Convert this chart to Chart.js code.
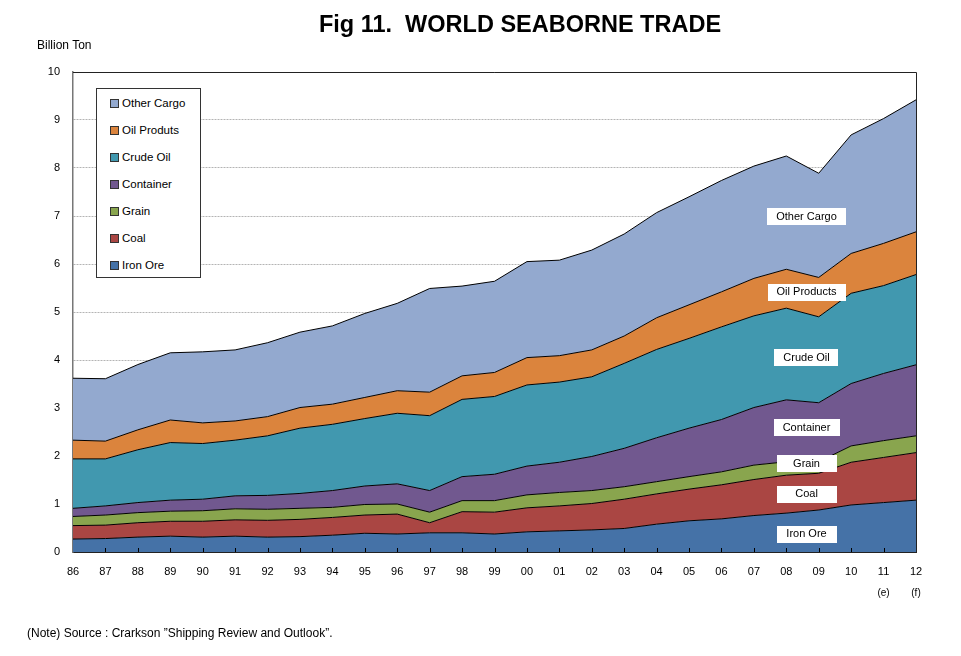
<!DOCTYPE html>
<html><head><meta charset="utf-8">
<script src="https://cdn.jsdelivr.net/npm/chart.js@4"></script>
<style>
html,body{margin:0;padding:0;background:#fff;}
#wrap{position:relative;width:961px;height:656px;font-family:"Liberation Sans",Arial,sans-serif;}
canvas{position:absolute;left:0;top:0;}
.t{position:absolute;white-space:pre;color:#000;}
.lg{position:absolute;left:96px;top:88px;width:103px;height:188px;border:1px solid #333;background:#fff;}
.li{position:absolute;left:13px;font-size:11.5px;line-height:14px;white-space:nowrap;}
.li span{display:inline-block;width:7px;height:7px;border:1px solid #333;margin-right:3px;vertical-align:-1px;}
</style></head><body>
<div id="wrap">
<canvas id="c" width="961" height="656"></canvas>
<div class="t" style="left:0;width:1040px;text-align:center;top:11px;font-size:23.5px;font-weight:bold;">Fig 11.  WORLD SEABORNE TRADE</div>
<div class="t" style="left:37px;top:38px;font-size:12px;">Billion Ton</div>
<div class="t" style="left:27px;top:626px;font-size:12px;">(Note) Source : Crarkson ”Shipping Review and Outlook”.</div>
<div class="lg" id="lg"></div>
</div>
<script>
const years = ['86','87','88','89','90','91','92','93','94','95','96','97','98','99','00','01','02','03','04','05','06','07','08','09','10','11','12'];
const yearNotes = ['','','','','','','','','','','','','','','','','','','','','','','','','','(e)','(f)'];
const seriesNames = ['Iron Ore','Coal','Grain','Container','Crude Oil','Oil Produts','Other Cargo'];
const ironOre   = [0.27,0.28,0.31,0.33,0.31,0.33,0.31,0.32,0.35,0.39,0.375,0.40,0.40,0.375,0.42,0.44,0.46,0.49,0.58,0.65,0.69,0.76,0.81,0.875,0.98,1.03,1.08];
const coal      = [0.28,0.28,0.30,0.31,0.33,0.34,0.35,0.36,0.37,0.38,0.415,0.21,0.44,0.455,0.50,0.52,0.55,0.61,0.63,0.66,0.71,0.75,0.79,0.765,0.89,0.94,0.99];
const grain     = [0.19,0.21,0.21,0.21,0.22,0.23,0.23,0.23,0.21,0.22,0.21,0.22,0.23,0.24,0.27,0.28,0.27,0.26,0.255,0.26,0.27,0.30,0.28,0.24,0.34,0.35,0.35];
const container = [0.17,0.19,0.21,0.23,0.24,0.27,0.29,0.31,0.35,0.385,0.42,0.45,0.50,0.55,0.60,0.63,0.71,0.80,0.915,1.01,1.09,1.20,1.29,1.23,1.30,1.40,1.48];
const crudeOil  = [1.03,0.98,1.10,1.20,1.16,1.16,1.24,1.36,1.38,1.405,1.47,1.56,1.61,1.62,1.69,1.67,1.66,1.77,1.84,1.87,1.93,1.91,1.91,1.79,1.88,1.83,1.88];
const oilProd   = [0.39,0.37,0.415,0.47,0.43,0.40,0.40,0.43,0.42,0.44,0.47,0.49,0.49,0.50,0.57,0.55,0.56,0.57,0.66,0.70,0.73,0.78,0.81,0.82,0.83,0.88,0.89];
const otherCargo= [1.29,1.30,1.36,1.40,1.48,1.48,1.54,1.57,1.63,1.75,1.82,2.16,1.87,1.90,2.00,1.99,2.08,2.125,2.19,2.25,2.32,2.34,2.36,2.17,2.47,2.60,2.75];
const yTicks = [0,1,2,3,4,5,6,7,8,9,10];
const inLabels = ['Iron Ore','Coal','Grain','Container','Crude Oil','Oil Products','Other Cargo'];
const inLabelY = [0.38,1.21,1.85,2.6,4.06,5.42,7.0];
const colors = ['#4572A7','#AA4643','#89A54E','#71588F','#4198AF','#DB843D','#93A9CF'];

const allSeries = [ironOre,coal,grain,container,crudeOil,oilProd,otherCargo];
const datasets = allSeries.map((d,i)=>({
  label: seriesNames[i], data: d, backgroundColor: colors[i], borderColor:'#000', borderWidth:1,
  fill: i===0 ? 'origin' : '-1', pointRadius:0, tension:0
}));

const lg = document.getElementById('lg');
for (let k=0;k<7;k++){
  const i = 6-k;
  const d = document.createElement('div');
  d.className='li'; d.style.top = (7+k*27)+'px';
  d.innerHTML = '<span style="background:'+colors[i]+'"></span>'+seriesNames[i];
  lg.appendChild(d);
}

const deco = {
  id:'deco',
  afterDatasetsDraw(chart){
    const ctx = chart.ctx, a = chart.chartArea, xs = chart.scales.x, ys = chart.scales.y;
    ctx.save();
    ctx.strokeStyle='#000'; ctx.lineWidth=1;
    for (let i=1;i<years.length-1;i++){
      const x = Math.round(xs.getPixelForValue(i))+0.5;
      ctx.beginPath(); ctx.moveTo(x,a.bottom); ctx.lineTo(x,a.bottom-4); ctx.stroke();
    }
    ctx.strokeStyle='#222';
    ctx.beginPath();
    ctx.moveTo(Math.round(a.left), Math.round(a.top)+0.5);
    ctx.lineTo(Math.round(a.right)+0.5, Math.round(a.top)+0.5);
    ctx.lineTo(Math.round(a.right)+0.5, Math.round(a.bottom));
    ctx.stroke();
    const cx = (xs.getPixelForValue(22)+xs.getPixelForValue(23))/2 + 4;
    ctx.font = '11px "Liberation Sans", Arial, sans-serif';
    ctx.textAlign='center'; ctx.textBaseline='middle';
    for (let i=0;i<inLabels.length;i++){
      const y = ys.getPixelForValue(inLabelY[i]);
      const w = Math.max(60, ctx.measureText(inLabels[i]).width + 18);
      ctx.fillStyle='#fff'; ctx.fillRect(Math.round(cx-w/2), Math.round(y-8), Math.round(w), 17);
      ctx.fillStyle='#000'; ctx.fillText(inLabels[i], cx, y+0.5);
    }
    ctx.font = '10px "Liberation Sans", Arial, sans-serif';
    for (let i=0;i<years.length;i++){
      if (yearNotes[i]) ctx.fillText(yearNotes[i], xs.getPixelForValue(i), a.bottom+41);
    }
    ctx.restore();
  }
};

new Chart(document.getElementById('c'), {
  type:'line',
  data:{labels:years, datasets},
  options:{
    responsive:false, animation:false,
    layout:{padding:{left:0,top:72,right:45,bottom:0}},
    plugins:{legend:{display:false}, tooltip:{enabled:false}, filler:{drawTime:'beforeDatasetsDraw'}},
    scales:{
      x:{type:'category', offset:false,
        grid:{display:false, drawTicks:false},
        border:{display:true,color:'#222',width:1},
        ticks:{color:'#000', font:{size:11, family:'"Liberation Sans", Arial, sans-serif'}, padding:13, maxRotation:0, autoSkip:false},
        afterFit(s){ s.height = 104; }
      },
      y:{stacked:true, min:0, max:10,
        afterBuildTicks(s){ s.ticks = yTicks.map(v=>({value:v})); },
        grid:{color:'#b4b4b4', lineWidth:1, drawTicks:false},
        border:{display:true,color:'#777',width:1.5, dash:[2,1]},
        ticks:{color:'#000', font:{size:11, family:'"Liberation Sans", Arial, sans-serif'}, padding:13},
        afterFit(s){ s.width = 73; }
      }
    }
  },
  plugins:[deco]
});
</script>
</body></html>
